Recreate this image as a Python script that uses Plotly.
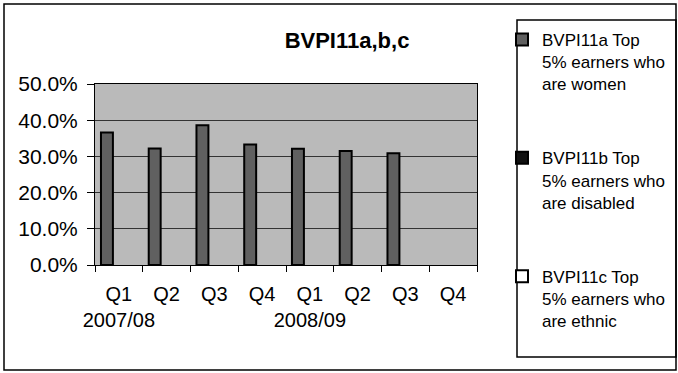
import plotly.graph_objects as go

# ---- data ----
categories = ["2007/08 Q1", "2007/08 Q2", "2007/08 Q3", "2007/08 Q4",
              "2008/09 Q1", "2008/09 Q2", "2008/09 Q3", "2008/09 Q4"]
tick_labels = ["Q1<br>2007/08", "Q2<br> ", "Q3<br> ", "Q4<br> ",
               "Q1<br>2008/09", "Q2<br> ", "Q3<br> ", "Q4<br> "]
women = [0.366, 0.322, 0.386, 0.333, 0.321, 0.315, 0.309, None]
disabled = [None] * 8
ethnic = [None] * 8
series_names = ["BVPI11a Top<br>5% earners who<br>are women",
                "BVPI11b Top<br>5% earners who<br>are disabled",
                "BVPI11c Top<br>5% earners who<br>are ethnic"]
y_ticks = [0, 0.1, 0.2, 0.3, 0.4, 0.5]

W, H = 678, 373
ML, MR, MT, MB = 95, W - 477, 84, H - 265
PW, PH = W - ML - MR, H - MT - MB

def px_x(x):
    return (x - ML) / PW

def px_y(y):
    return (H - MB - y) / PH

FONT = "Liberation Sans, Arial, sans-serif"

fig = go.Figure()
fig.add_trace(go.Bar(x=categories, y=women, name=series_names[0], legendgroup="a",
                     marker=dict(color="#606060", line=dict(color="black", width=2))))
fig.add_trace(go.Bar(x=categories, y=disabled, name=series_names[1], legendgroup="b",
                     marker=dict(color="#111111", line=dict(color="black", width=2))))
fig.add_trace(go.Bar(x=categories, y=ethnic, name=series_names[2], legendgroup="c",
                     marker=dict(color="white", line=dict(color="black", width=2))))

fig.update_layout(
    width=W, height=H,
    margin=dict(l=ML, r=MR, t=MT, b=MB, pad=0, autoexpand=False),
    paper_bgcolor="white",
    plot_bgcolor="#bababa",
    barmode="group",
    bargap=0.25,
    bargroupgap=0,
    font=dict(family=FONT, size=20, color="black"),
    title=dict(text="<b>BVPI11a,b,c</b>", x=347 / W, xanchor="center", xref="container",
               y=1 - 40 / H, yanchor="middle", yref="container",
               font=dict(family=FONT, size=22, color="black")),
    showlegend=True,
    legend=dict(x=px_x(502), xanchor="left", y=px_y(22), yanchor="top",
                font=dict(family=FONT, size=17, color="black"),
                bgcolor="rgba(0,0,0,0)", borderwidth=0,
                traceorder="grouped", tracegroupgap=49, valign="top",
                maxheight=373,
                itemclick=False, itemdoubleclick=False),
    xaxis=dict(type="category", categoryorder="array", categoryarray=categories,
               tickvals=categories, ticktext=tick_labels, tickangle=0,
               tickson="boundaries", ticks="outside", ticklen=6, tickcolor="black",
               showline=True, linecolor="black", linewidth=1, mirror=True,
               showgrid=False, tickfont=dict(size=20), ticklabelstandoff=11),
    yaxis=dict(range=[0, 0.5], tickvals=y_ticks, tickformat=".1%",
               ticks="outside", ticklen=7, tickcolor="black",
               showline=True, linecolor="black", linewidth=1, mirror=True,
               showgrid=True, gridcolor="#333333", gridwidth=1,
               zeroline=False, tickfont=dict(size=21), ticklabelstandoff=5),
    shapes=[
        dict(type="rect", xref="paper", yref="paper",
             x0=px_x(4), x1=px_x(676), y0=px_y(370), y1=px_y(4),
             line=dict(color="black", width=1.5), fillcolor="rgba(0,0,0,0)", layer="below"),
        dict(type="rect", xref="paper", yref="paper",
             x0=px_x(517), x1=px_x(676), y0=px_y(357), y1=px_y(20),
             line=dict(color="black", width=1.5), fillcolor="rgba(0,0,0,0)"),
    ],
)

fig.write_html("out.html")
